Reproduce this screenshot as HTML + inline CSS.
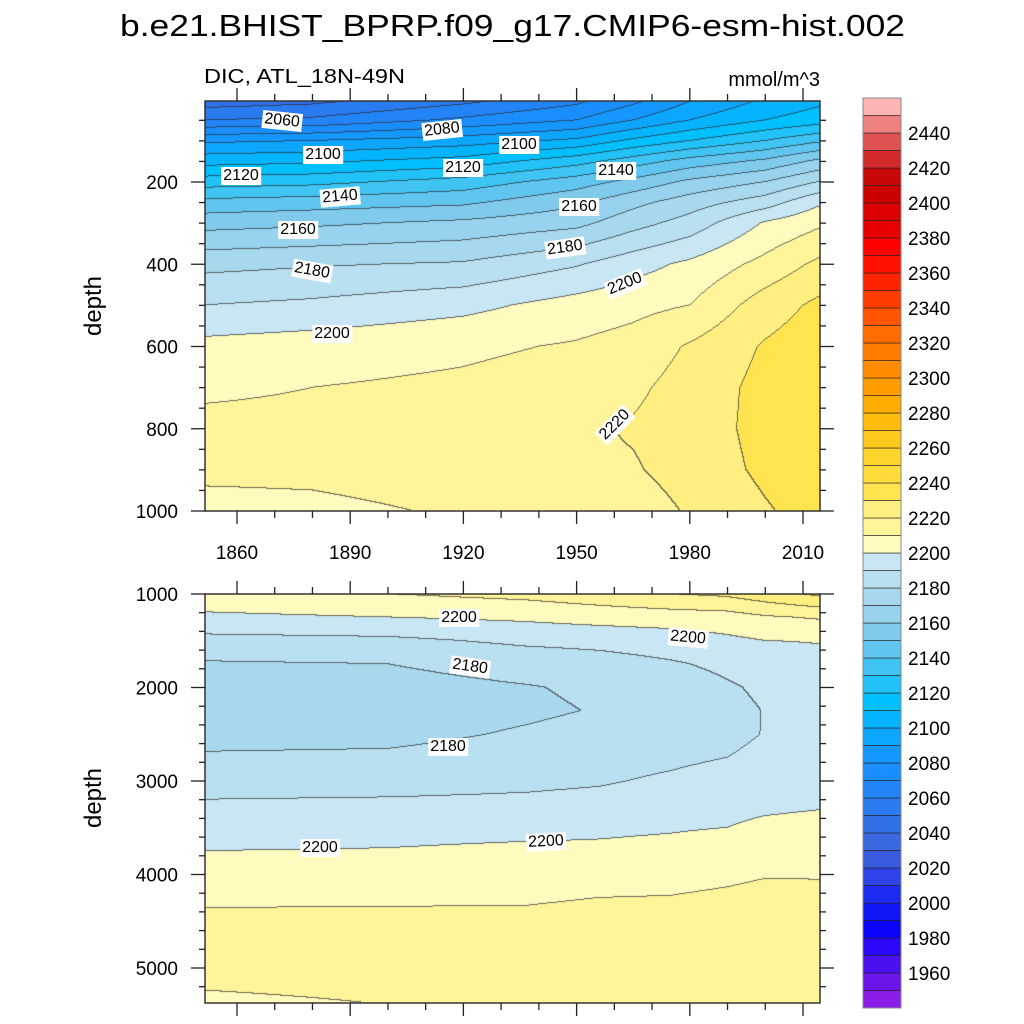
<!DOCTYPE html>
<html><head><meta charset="utf-8">
<style>
html,body{margin:0;padding:0;background:#fff;}
#root{position:relative;width:1024px;height:1024px;overflow:hidden;font-family:"Liberation Sans",sans-serif;}
canvas{position:absolute;}
svg{position:absolute;left:0;top:0;}
.clab{position:absolute;background:#fff;font-size:16px;line-height:16px;padding:1px 2px;color:#000;white-space:nowrap;}
</style></head>
<body>
<div id="root">
<canvas id="cTop" width="615" height="410" style="left:205px;top:101px"></canvas>
<canvas id="cBot" width="615" height="409" style="left:205px;top:594px"></canvas>
<svg id="ov" width="1024" height="1024">
<text x="120" y="36" font-size="31" textLength="785" lengthAdjust="spacingAndGlyphs" font-family="Liberation Sans, sans-serif">b.e21.BHIST_BPRP.f09_g17.CMIP6-esm-hist.002</text>
<text x="204" y="83" font-size="20" textLength="201" lengthAdjust="spacingAndGlyphs" font-family="Liberation Sans, sans-serif">DIC, ATL_18N-49N</text>
<text x="820" y="86" font-size="20" text-anchor="end" font-family="Liberation Sans, sans-serif">mmol/m^3</text>
<text transform="translate(101,306) rotate(-90)" font-size="24" text-anchor="middle" font-family="Liberation Sans, sans-serif">depth</text>
<text transform="translate(101,798) rotate(-90)" font-size="24" text-anchor="middle" font-family="Liberation Sans, sans-serif">depth</text>
</svg>
</div>
<script>
// ---- colour levels ----
const levels = [1950,1960,1970,1980,1990,2000,2010,2020,2030,2040,2050,2060,2070,2080,2090,2100,2110,2120,2130,2140,2150,2160,2170,2180,2190,2200,2210,2220,2230,2240,2250,2260,2270,2280,2290,2300,2310,2320,2330,2340,2350,2360,2370,2380,2390,2400,2410,2420,2430,2440,2450];
const colorbarLabels = [1960,1980,2000,2020,2040,2060,2080,2100,2120,2140,2160,2180,2200,2220,2240,2260,2280,2300,2320,2340,2360,2380,2400,2420,2440];
const fillColors = ["#8a1ee8","#6a14ea","#4a10f0","#2a08fa","#0a04ff","#1018f8","#1c2cf0","#2e44e8","#3a5ae0","#3a68e0","#3070e6","#2a7af0","#2284f6","#1a8eff","#1498ff","#0ca6ff","#04b4ff","#00c0ff","#20c2f8","#40c4f4","#60c6f0","#80caec","#98d2ee","#a8d8ee","#b8e0f0","#c8e6f4","#fffabe","#fff49a","#ffee80","#ffe450","#ffdc3c","#ffd42c","#ffc81c","#ffbc0c","#ffac00","#ff9c00","#ff8c00","#ff7c00","#ff6c00","#ff5400","#ff3c00","#ff2400","#ff1000","#ff0000","#e80000","#dc0000","#cc0000","#c80808","#d22a2a","#e05252","#ef8080","#ffb4b4"];

// ---- upper panel data (DIC, mmol/m^3) ----
const topYears = [1851,1880,1920,1950,1965,1980,2000,2014];
const topDepths = [5,50,100,150,200,250,300,400,500,600,700,800,900,1000];
const topY1851 = [2045,2060,2088,2106,2125,2143,2156,2177,2190,2203,2208,2213,2212,2207];
const topY1880 = [2048,2062,2090,2108,2127,2145,2158,2179,2192,2205,2210,2213,2212,2208];
const topY1920 = [2058,2072,2095,2114,2134,2148,2162,2181,2197,2208,2212,2214,2214,2211];
const topY1950 = [2068,2080,2102,2126,2145,2158,2167,2189,2204,2211,2215,2218,2218,2216];
const topY1965 = [2078,2090,2112,2135,2153,2167,2176,2196,2207,2214,2218,2221,2219,2215];
const topY1980 = [2090,2100,2120,2144,2162,2175,2184,2202,2210,2221,2224,2225,2224,2221];
const topY2000 = [2102,2110,2130,2152,2170,2185,2201,2213,2225,2231,2233,2233,2232,2229];
const topY2014 = [2108,2115,2138,2162,2180,2198,2208,2222,2232,2236,2238,2238,2237,2234];

// ---- lower panel data ----
const botYears = [1851,1900,1937,1956,1975,1990,2000,2014];
const botDepths = [1000,1250,1500,1750,2000,2250,2500,2750,3000,3250,3500,3750,4000,4500,5000,5400];
const botY1851 = [2207,2198,2187,2179,2176,2175,2177,2181,2186,2191,2196,2200,2205,2212,2213,2208];
const botY1900 = [2210,2200,2188,2180,2176.5,2175.5,2177.5,2181.5,2186.5,2191.5,2196.5,2200.5,2205.5,2212,2213.5,2210];
const botY1937 = [2213,2202,2192,2184,2179.5,2178.5,2181,2184,2188,2192,2197,2202,2206,2212,2214,2212];
const botY1956 = [2216,2204,2193,2186,2181.5,2180.5,2183,2186,2189,2193,2198,2202,2207,2213,2215,2213];
const botY1975 = [2220,2205,2195,2189,2185,2184,2185.5,2188,2191.5,2195,2199,2203,2207.5,2213,2215,2214];
const botY1990 = [2222,2206,2198,2192,2189,2187.5,2188,2190,2194,2197,2200,2205,2208.5,2214,2216,2215];
const botY2000 = [2226,2209,2200,2194,2191.5,2190.3,2190.3,2192,2195,2198,2202,2206,2209.5,2215,2216,2215];
const botY2014 = [2232,2211,2200.5,2197,2195,2194,2194,2195,2197,2199,2203,2206,2209.5,2214,2216,2215];

const topGrid = [topY1851,topY1880,topY1920,topY1950,topY1965,topY1980,topY2000,topY2014];
const botGrid = [botY1851,botY1900,botY1937,botY1956,botY1975,botY1990,botY2000,botY2014];

// ---- axes ----
const xTickLabels = [1860,1890,1920,1950,1980,2010];
const topYTickLabels = [200,400,600,800,1000];
const botYTickLabels = [1000,2000,3000,4000,5000];
function xScale(yr){return 237+(yr-1860)*3.7733;}
function xInv(px){return 1860+(px-237)/3.7733;}
function yTop(d){return 99.75+d*0.41125;}
function yTopInv(py){return (py-99.75)/0.41125;}
function yBot(d){return 594+(d-1000)*0.0935;}
function yBotInv(py){return 1000+(py-594)/0.0935;}
function cbY(l){return 1008-17.5*((l-1950)/10+1);}

function locate(arr,v){
  if(v<=arr[0]) return [0,0];
  if(v>=arr[arr.length-1]) return [arr.length-2,1];
  for(let i=0;i<arr.length-1;i++){ if(v<=arr[i+1]) return [i,(v-arr[i])/(arr[i+1]-arr[i])]; }
}
function interp(years,depths,grid,yr,d){
  const [i,fx]=locate(years,yr), [j,fy]=locate(depths,d);
  const a=grid[i][j],b=grid[i+1][j],c=grid[i][j+1],e=grid[i+1][j+1];
  return (a*(1-fx)+b*fx)*(1-fy)+(c*(1-fx)+e*fx)*fy;
}
function levelIndex(v){ let k=0; while(k<levels.length && v>=levels[k]) k++; return k; }
function hex(c){return [parseInt(c.substr(1,2),16),parseInt(c.substr(3,2),16),parseInt(c.substr(5,2),16)];}
const rgb = fillColors.map(hex);

function drawPanel(id,x0,y0,w,h,years,depths,grid,yInv){
  const cv=document.getElementById(id), ctx=cv.getContext('2d');
  const img=ctx.createImageData(w,h), L=new Int16Array(w*h);
  for(let r=0;r<h;r++){ const d=yInv(y0+r+0.5);
    for(let c=0;c<w;c++){ L[r*w+c]=levelIndex(interp(years,depths,grid,xInv(x0+c+0.5),d)); } }
  for(let r=0;r<h;r++) for(let c=0;c<w;c++){
    const k=r*w+c; let col=rgb[L[k]].slice();
    const edge=(c<w-1&&L[k]!==L[k+1])||(r<h-1&&L[k]!==L[k+w]);
    if(edge){ col=col.map(v=>Math.round(v*0.3+45*0.7)); }
    img.data[k*4]=col[0];img.data[k*4+1]=col[1];img.data[k*4+2]=col[2];img.data[k*4+3]=255; }
  ctx.putImageData(img,0,0);
}
drawPanel('cTop',205,101,615,410,topYears,topDepths,topGrid,yTopInv);
drawPanel('cBot',205,594,615,409,botYears,botDepths,botGrid,yBotInv);

const NS='http://www.w3.org/2000/svg', ov=document.getElementById('ov');
function mk(tag,attrs){const e=document.createElementNS(NS,tag);for(const k in attrs)e.setAttribute(k,attrs[k]);ov.appendChild(e);return e;}
function line(x1,y1,x2,y2){const e=mk('line',{x1,y1,x2,y2,stroke:'#222','stroke-width':1.3});

return e;}

[[101,511,'upper-panel-frame'],[594,1003,'lower-panel-frame']].forEach(f=>{
  const r=mk('rect',{x:205,y:f[0],width:615,height:f[1]-f[0],fill:'none',stroke:'#333','stroke-width':1.5});
  
  
});
for(let yr=1850;yr<=2014;yr+=10){
  const x=xScale(yr); if(x<205||x>820) continue;
  const major=xTickLabels.indexOf(yr)>=0, len=major?13:7;
  line(x,101,x,101-len); line(x,511,x,511+len); line(x,594,x,594-len); line(x,1003,x,1003+len);
}
xTickLabels.forEach(yr=>{
  const t=mk('text',{x:xScale(yr),y:559,'font-size':19,'text-anchor':'middle','font-family':'Liberation Sans, sans-serif'});
  t.textContent=yr;
  
  
});
for(let d=50;d<=1000;d+=50){
  const y=yTop(d), major=topYTickLabels.indexOf(d)>=0, len=major?14:6;
  line(205,y,205-len,y); line(820,y,820+len,y);
}
topYTickLabels.forEach(d=>{
  const t=mk('text',{x:178,y:yTop(d)+7,'font-size':19,'text-anchor':'end','font-family':'Liberation Sans, sans-serif'});
  t.textContent=d;
  
  
});
for(let d=1000;d<=5300;d+=200){
  const y=yBot(d), major=botYTickLabels.indexOf(d)>=0, len=major?14:6;
  line(205,y,205-len,y); line(820,y,820+len,y);
}
botYTickLabels.forEach(d=>{
  const t=mk('text',{x:178,y:yBot(d)+7,'font-size':19,'text-anchor':'end','font-family':'Liberation Sans, sans-serif'});
  t.textContent=d;
  
  
});
fillColors.forEach((c,k)=>{
  const y=1008-17.5*(k+1);
  const r=mk('rect',{x:863,y:y,width:38,height:17.5,fill:c,stroke:'#222','stroke-width':0.6});
  
  
});
const cbf=mk('rect',{x:863,y:98,width:38,height:910,fill:'none',stroke:'#888','stroke-width':1});


colorbarLabels.forEach(l=>{
  const t=mk('text',{x:908,y:cbY(l)+7,'font-size':19,'font-family':'Liberation Sans, sans-serif'});
  t.textContent=l;
  
  
});

const clabText = ["2060","2080","2100","2100","2120","2120","2140","2140","2160","2160","2180","2180","2200","2200","2220","2200","2200","2180","2180","2200","2200"];
const clabPos = [[282,121,6],[442,130,-6],[323,155,0],[519,145,0],[241,176,0],[463,168,0],[340,197,-5],[616,171,0],[298,230,0],[579,207,0],[312,271,10],[565,248,-8],[332,334,0],[625,284,-22],[615,425,-45],[459,618,0],[688,638,5],[470,667,8],[448,747,0],[320,848,0],[546,842,-3]];
const root=document.getElementById('root');
clabText.forEach((s,i)=>{
  const p=clabPos[i], el=document.createElement('div');
  el.className='clab'; el.textContent=s;
  el.style.left=p[0]+'px'; el.style.top=p[1]+'px';
  el.style.transform='translate(-50%,-50%) rotate('+p[2]+'deg)';
  
  
  root.appendChild(el);
});
</script>
</body></html>
